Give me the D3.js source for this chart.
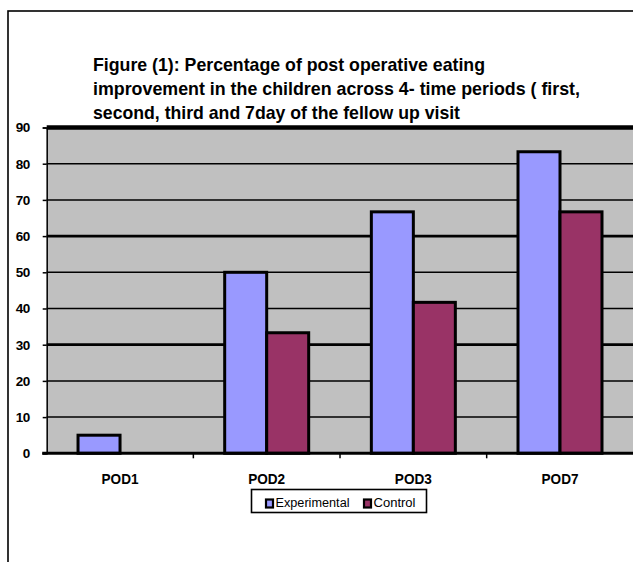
<!DOCTYPE html>
<html><head><meta charset="utf-8">
<script src="https://cdn.jsdelivr.net/npm/d3@7"></script>
<style>html,body{margin:0;padding:0;background:#fff;overflow:hidden}svg{display:block}</style>
</head><body>
<svg id="c" width="633" height="562"></svg>
<script>
const categories = ["POD1", "POD2", "POD3", "POD7"];
const seriesNames = ["Experimental", "Control"];
const experimental = [5, 50, 66.7, 83.3];
const control = [0, 33.3, 41.7, 66.7];
const yTicks = [0, 10, 20, 30, 40, 50, 60, 70, 80, 90];
const titleLines = [
  "Figure (1): Percentage of post operative eating",
  "improvement in the children across 4- time periods ( first,",
  "second, third and 7day of the fellow up visit"
];
const colors = ["#9999FF", "#993366"];

const svg = d3.select("#c");
const font = "'Liberation Sans', Arial, sans-serif";

// outer frame
svg.append("rect").attr("x", 8).attr("y", 11).attr("width", 700).attr("height", 700)
  .attr("fill", "none").attr("stroke", "#000").attr("stroke-width", 1.6);

const L = 46.7, R = 633.33, T = 127.5, B = 453.3;
const y = d3.scaleLinear().domain([0, 90]).range([B, T]);
const x0 = d3.scaleBand().domain(categories).range([L, R]).padding(0);
const x1 = d3.scaleBand().domain(seriesNames).range([0, x0.bandwidth()]).paddingInner(0).paddingOuter(0.746);

// plot bg
svg.append("rect").attr("x", L).attr("y", T).attr("width", R - L).attr("height", B - T).attr("fill", "#C0C0C0");

// gridlines
svg.append("g").selectAll("line").data(yTicks.filter(d => d > 0)).join("line")
  .attr("x1", L).attr("x2", R + 5).attr("y1", d => y(d)).attr("y2", d => y(d))
  .attr("stroke", "#000")
  .attr("stroke-width", d => d === 90 ? 4.5 : (d === 30 || d === 60 ? 2.8 : 1.5));

// y axis
const yAxis = d3.axisLeft(y).tickValues(yTicks).tickSize(4).tickPadding(13).tickFormat(d3.format("d"));
const ga = svg.append("g").attr("transform", `translate(${L},0)`).call(yAxis);
ga.select(".domain").attr("stroke", "#000").attr("stroke-width", 1.5);
ga.selectAll(".tick line").attr("stroke", "#000").attr("stroke-width", 1.5);
ga.selectAll(".tick text").attr("font-family", font).attr("font-weight", "bold")
  .attr("font-size", 13.5).attr("fill", "#000").attr("letter-spacing", -0.5);

// bars
const data = categories.map((c, i) => ({ c, vals: [experimental[i], control[i]] }));
const groups = svg.append("g").selectAll("g").data(data).join("g")
  .attr("transform", d => `translate(${x0(d.c)},0)`);
groups.selectAll("rect").data(d => d.vals.map((v, j) => ({ v, s: seriesNames[j], j })).filter(e => e.v > 0))
  .join("rect")
  .attr("x", e => x1(e.s)).attr("width", x1.bandwidth())
  .attr("y", e => y(e.v)).attr("height", e => y(0) - y(e.v))
  .attr("fill", e => colors[e.j]).attr("stroke", "#000").attr("stroke-width", 3);

// x axis
const xAxis = d3.axisBottom(x0).tickSize(0).tickPadding(20);
const gx = svg.append("g").attr("transform", `translate(0,${B})`).call(xAxis);
gx.select(".domain").remove();
gx.append("line").attr("x1", L - 4.5).attr("x2", R + 5).attr("y1", 0).attr("y2", 0)
  .attr("stroke", "#000").attr("stroke-width", 3);
gx.selectAll(".tick text").attr("font-family", font).attr("font-weight", "bold")
  .attr("font-size", 15).attr("fill", "#000")
  .attr("textLength", 37).attr("lengthAdjust", "spacingAndGlyphs");
// boundary tick marks
gx.append("g").selectAll("line").data(categories.slice(1)).join("line")
  .attr("x1", d => x0(d)).attr("x2", d => x0(d)).attr("y1", 0).attr("y2", 5)
  .attr("stroke", "#000").attr("stroke-width", 1.5);

// title
const titleWidths = [392, 487, 367];
const titleBase = [71, 95, 119];
svg.append("g").selectAll("text").data(titleLines).join("text")
  .attr("x", 93).attr("y", (d, i) => titleBase[i])
  .attr("font-family", font).attr("font-weight", "bold").attr("font-size", 18.5)
  .attr("fill", "#000")
  .attr("textLength", (d, i) => titleWidths[i]).attr("lengthAdjust", "spacingAndGlyphs")
  .text(d => d);

// legend
const lg = svg.append("g");
lg.append("rect").attr("x", 251.5).attr("y", 489.5).attr("width", 175).attr("height", 23)
  .attr("fill", "#fff").attr("stroke", "#000").attr("stroke-width", 1.6);
const legX = [266, 364];
const legW = [74, 42];
seriesNames.forEach((s, i) => {
  lg.append("rect").attr("x", legX[i]).attr("y", 499.5).attr("width", 7).attr("height", 8)
    .attr("fill", colors[i]).attr("stroke", "#000").attr("stroke-width", 2.2);
  lg.append("text").attr("x", legX[i] + 9.5).attr("y", 507)
    .attr("font-family", font).attr("font-size", 12).attr("fill", "#000")
    .attr("textLength", legW[i]).attr("lengthAdjust", "spacingAndGlyphs")
    .text(s);
});
</script>
</body></html>
